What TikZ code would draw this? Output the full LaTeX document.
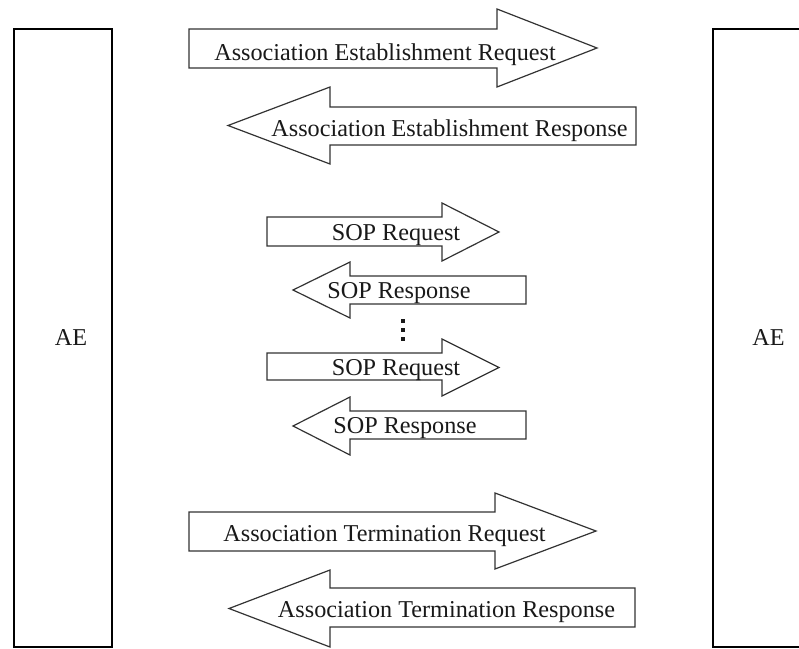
\documentclass[tikz,border=0pt]{standalone}
\usepackage{fontspec}
\setmainfont{Liberation Serif}
\begin{document}
\begin{tikzpicture}[x=1pt,y=-1pt,
  entity/.style={draw=black,line width=2.8pt},
  msgshape/.style={draw=black!80,line width=1.2pt,fill=white,line join=miter},
  msgtext/.style={inner sep=0pt,anchor=base,font=\fontsize{24.2}{28}\selectfont,text=black!90},
  aetext/.style={inner sep=0pt,anchor=base,font=\fontsize{24.2}{28}\selectfont,text=black!90}]
% right-pointing message: #1 tail x, #2 head base x, #3 tip x, #4/#5 body top/bottom, #6/#7 head top/bottom
\newcommand\rmsg[7]{\draw[msgshape] (#1,#4) -- (#2,#4) -- (#2,#6) -- (#3,{(#6+#7)/2}) -- (#2,#7) -- (#2,#5) -- (#1,#5) -- cycle;}
% left-pointing message: #1 tip x, #2 head base x, #3 tail x, #4/#5 body top/bottom, #6/#7 head top/bottom
\newcommand\lmsg[7]{\draw[msgshape] (#3,#4) -- (#2,#4) -- (#2,#6) -- (#1,{(#6+#7)/2}) -- (#2,#7) -- (#2,#5) -- (#3,#5) -- cycle;}
\useasboundingbox (0,0) rectangle (799,648);
\clip (0,0) rectangle (799,648);
\fill[white] (0,0) rectangle (799,648);

% the two application entities
\draw[entity] (14,29) rectangle (112,647);
\draw[entity] (713,29) rectangle (830,647);
\node[aetext] (aeL) at (71,345) {AE};
\node[aetext] (aeR) at (768.5,345) {AE};

% association establishment
\rmsg{189}{497}{597}{29}{68}{9}{87}
\node[msgtext] (estreq) at (385,60) {Association Establishment Request};
\lmsg{228}{330}{636}{107}{145}{87}{164}
\node[msgtext] (estresp) at (449.5,136.5) {Association Establishment Response};

% SOP exchanges
\rmsg{267}{442}{499}{217}{246}{203}{261}
\node[msgtext] (sopreqA) at (396,240) {SOP Request};
\lmsg{293}{350}{526}{276}{304}{262}{318}
\node[msgtext] (soprespA) at (399,298) {SOP Response};
\foreach \yy in {321,330,339}
  \fill[black!90] (401.3,\yy-2) rectangle (404.7,\yy+2);
\rmsg{267}{442}{499}{353}{380}{339}{396}
\node[msgtext] (sopreqB) at (396,375) {SOP Request};
\lmsg{293}{350}{526}{411}{439}{397}{455}
\node[msgtext] (soprespB) at (405,433) {SOP Response};

% association termination
\rmsg{189}{495}{596}{512}{551}{493}{569}
\node[msgtext] (termreq) at (384.5,541) {Association Termination Request};
\lmsg{229}{330}{635}{588}{627}{570}{647}
\node[msgtext] (termresp) at (446.5,617) {Association Termination Response};
\end{tikzpicture}
\end{document}
